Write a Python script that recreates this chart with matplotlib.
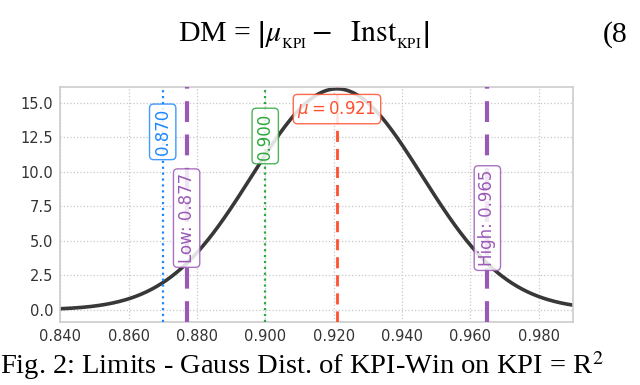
import numpy as np
from matplotlib import pyplot as plt

# Gaussian of the KPI window
mu = 0.921
sigma = 0.0249

# limit lines: value, label, colour, style, width
limit_vals = [0.870, 0.877, 0.900, 0.921, 0.965]
limit_labels = ['0.870', 'Low: 0.877', '0.900', r'$\mu = 0.921$', 'High: 0.965']
limit_colors = ['#1e88ff', '#9b59b6', '#2ca83c', '#ff5030', '#9b59b6']
limit_styles = [':', (0, (5, 3)), ':', (0, (4, 2.5)), (0, (5, 3))]
limit_widths = [1.6, 3.0, 1.6, 2.0, 3.0]
label_y = [12.9, 6.65, 12.6, 14.55, 6.65]
label_rot = [90, 90, 90, 0, 90]

xticks = [0.84, 0.86, 0.88, 0.90, 0.92, 0.94, 0.96, 0.98]
yticks = [0.0, 2.5, 5.0, 7.5, 10.0, 12.5, 15.0]

fig = plt.figure(figsize=(6.4, 3.85), dpi=100)
ax = fig.add_axes([0.094, 0.164, 0.801, 0.610])

x = np.linspace(0.84, 0.99, 400)
y = np.exp(-0.5 * ((x - mu) / sigma) ** 2) / (sigma * np.sqrt(2 * np.pi))
ax.plot(x, y, color='#383838', lw=2.6, zorder=2)

for v, lab, c, ls, lw, ly, rot in zip(limit_vals, limit_labels, limit_colors,
                                        limit_styles, limit_widths, label_y, label_rot):
    ax.axvline(v, color=c, ls=ls, lw=lw, zorder=3)
    ax.text(v, ly, lab, color=c, rotation=rot, ha='center', va='center',
            fontsize=12, zorder=5,
            bbox=dict(boxstyle='round,pad=0.25', fc='white', ec=c, alpha=0.85, lw=1.0))

ax.set_xlim(0.84, 0.99)
ax.set_ylim(-0.87, 16.15)
ax.set_xticks(xticks)
ax.set_xticklabels(['%.3f' % t for t in xticks])
ax.set_yticks(yticks)
ax.tick_params(length=0, labelsize=10.5, labelcolor='#333333', pad=5)
ax.grid(True, ls=':', color='#c8c8c8', lw=0.9)
ax.set_axisbelow(True)
for s in ax.spines.values():
    s.set_color('#cccccc')
    s.set_linewidth(1.2)

# surrounding paper text
fig.text(0.475, 0.91, r'DM = $\left|\mu_{_{\rm KPI}} -\ \ \mathrm{Inst}_{_{\rm KPI}}\right|$',
         ha='center', va='center', fontsize=21.5, family='Liberation Serif',
         math_fontfamily='stix')
fig.text(0.942, 0.91, '(8', ha='left', va='center', fontsize=21.5, family='Liberation Serif')
fig.text(0.0, 0.05, r'Fig. 2: Limits - Gauss Dist. of KPI-Win on KPI = R$^2$',
         ha='left', va='center', fontsize=20.5, family='Liberation Serif',
         math_fontfamily='stix')

fig.savefig('out.png', dpi=100)
